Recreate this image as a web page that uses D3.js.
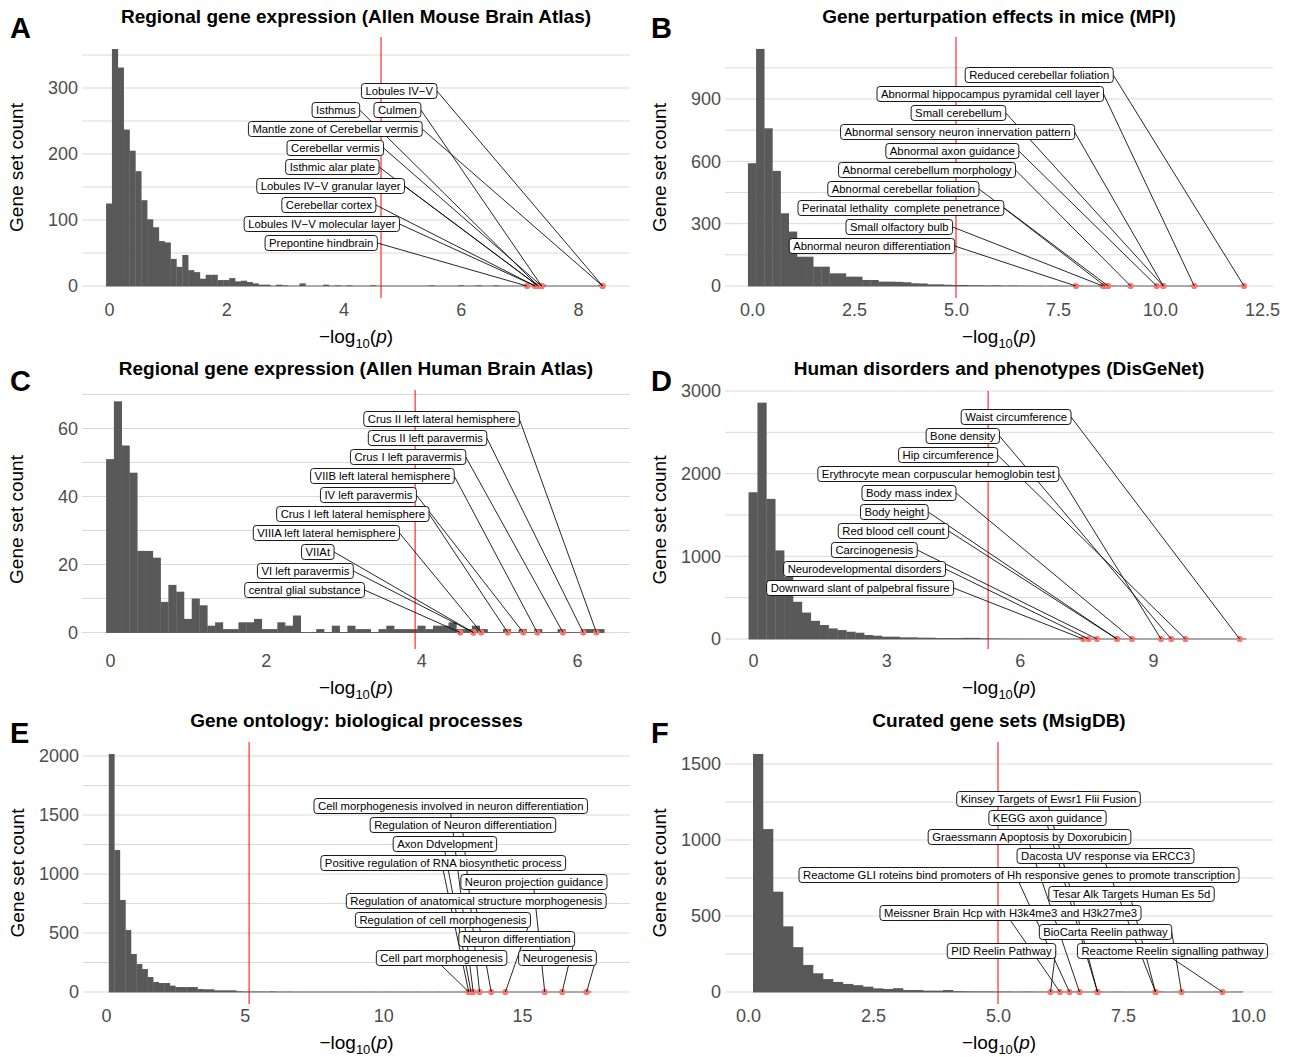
<!DOCTYPE html>
<html>
<head>
<meta charset="utf-8">
<script src="https://cdn.jsdelivr.net/npm/d3@7"></script>
<style>
body { margin: 0; background: #fff; }
svg text { font-family: "Liberation Sans", Arial, Helvetica, sans-serif; }
</style>
</head>
<body>
<svg id="chart" width="1292" height="1057"></svg>
<script>
// ---- A: Allen Mouse Brain Atlas (bins of 0.1, first centred on 0) ----
var aCounts = [125, 359, 331, 237, 205, 174, 130, 101, 89, 68,
    66, 41, 29, 47, 24, 21, 11, 17, 17, 9,
    9, 12, 7, 8, 6, 4, 2, 2, 0, 2,
    1, 0, 0, 4, 0, 0, 0, 2, 0, 1,
    0, 1, 0, 0, 0, 1, 0, 0, 0, 0,
    0, 0, 0, 0, 0, 1, 0, 0, 0, 0,
    1, 0, 0, 1, 0, 0, 1, 0, 0, 0,
    0, 1, 0, 5, 2, 0, 0, 0, 0, 0,
    0, 0, 0, 0, 2];
var aTerms = ["Lobules IV\u2212V", "Isthmus", "Culmen", "Mantle zone of Cerebellar vermis",
    "Cerebellar vermis", "Isthmic alar plate", "Lobules IV\u2212V granular layer",
    "Cerebellar cortex", "Lobules IV\u2212V molecular layer", "Prepontine hindbrain"];
var aLogP = [8.42, 7.32, 7.38, 8.42, 7.38, 7.32, 7.32, 7.27, 7.27, 7.13];
var aThreshold = 4.64;

// ---- B: MPI (bins of 0.2, first centred on 0) ----
var bCounts = [591, 1141, 759, 554, 350, 262, 141, 141, 93, 93,
    61, 61, 45, 45, 29, 29, 21, 21, 20, 18,
    13, 12, 8, 8, 6, 5, 5, 3, 3, 2,
    3, 1, 2, 1, 1, 1, 0, 1, 0, 0,
    1, 0, 0, 2, 1, 0, 1, 0, 0, 0,
    3, 0, 0, 0, 1, 0, 0, 0, 0, 0,
    1];
var bTerms = ["Reduced cerebellar foliation", "Abnormal hippocampus pyramidal cell layer",
    "Small cerebellum", "Abnormal sensory neuron innervation pattern", "Abnormal axon guidance",
    "Abnormal cerebellum morphology", "Abnormal cerebellar foliation",
    "Perinatal lethality  complete penetrance", "Small olfactory bulb", "Abnormal neuron differentiation"];
var bLogP = [12.06, 10.84, 10.08, 10.08, 9.92, 9.28, 8.73, 8.65, 8.60, 7.94];
var bThreshold = 5.0;

// ---- C: Allen Human Brain Atlas (bins of 0.1) ----
var cCounts = [51, 68, 55, 47, 24, 24, 22, 9, 14, 12,
    4, 10, 8, 2, 3, 1, 1, 3, 3, 4,
    1, 1, 3, 2, 5, 0, 0, 1, 0, 2,
    0, 2, 1, 1, 0, 1, 2, 1, 1, 1,
    2, 1, 2, 2, 3, 1, 1, 2, 1, 0,
    0, 1, 0, 1, 0, 1, 0, 0, 1, 0,
    0, 1, 1, 1];
var cTerms = ["Crus II left lateral hemisphere", "Crus II left paravermis", "Crus I left paravermis",
    "VIIB left lateral hemisphere", "IV left paravermis", "Crus I left lateral hemisphere",
    "VIIIA left lateral hemisphere", "VIIAt", "VI left paravermis", "central glial substance"];
var cLogP = [6.25, 6.08, 5.82, 5.49, 5.31, 5.11, 4.77, 4.67, 4.67, 4.50];
var cThreshold = 3.92;

// ---- D: DisGeNet (bins of 0.2) ----
var dCounts = [1775, 2859, 1695, 1072, 751, 450, 320, 220, 169, 128,
    108, 88, 76, 48, 40, 28, 28, 20, 20, 16,
    16, 12, 12, 12, 14, 14, 8, 6, 4, 3,
    3, 2, 2, 1, 1, 1, 1, 2, 1, 1,
    0, 2, 0, 1, 0, 0, 1, 1, 0, 1,
    0, 0, 0, 0, 0, 1];
var dTerms = ["Waist circumference", "Bone density", "Hip circumference",
    "Erythrocyte mean corpuscular hemoglobin test", "Body mass index", "Body height",
    "Red blood cell count", "Carcinogenesis", "Neurodevelopmental disorders",
    "Downward slant of palpebral fissure"];
var dLogP = [10.95, 9.41, 9.73, 9.18, 8.53, 8.19, 8.19, 7.74, 7.55, 7.43];
var dThreshold = 5.29;

// ---- E: GO biological processes (bins of 0.2, first centred on 0.2) ----
var eCounts = [2017, 1203, 780, 525, 322, 237, 195, 127, 85, 76,
    76, 54, 42, 42, 42, 42, 25, 23, 23, 14,
    14, 14, 14, 6, 3, 3, 3, 3, 2, 5,
    2, 1, 2, 1, 1, 1, 0, 1, 1, 0,
    1, 1, 0, 1, 0, 1, 0, 1, 0, 0,
    1, 0, 1, 0, 0, 1, 0, 0, 0, 1,
    0, 0, 0, 0, 2, 2, 1, 0, 1, 0,
    0, 1, 0, 0, 0, 0, 0, 1, 0, 0,
    0, 1, 0, 0, 0, 0, 1];
var eTerms = ["Cell morphogenesis involved in neuron differentiation", "Regulation of Neuron differentiation",
    "Axon Ddvelopment", "Positive regulation of RNA biosynthetic process", "Neuron projection guidance",
    "Regulation of anatomical structure morphogenesis", "Regulation of cell morphogenesis",
    "Neuron differentiation", "Cell part morphogenesis", "Neurogenesis"];
var eLogP = [13.24, 13.47, 13.16, 13.08, 15.82, 13.89, 14.40, 16.45, 13.08, 17.33];
var eThreshold = 5.16;

// ---- F: MsigDB curated (bins of 0.2, first centred on 0.2) ----
var fCounts = [1566, 1072, 660, 432, 295, 178, 123, 85, 66, 53,
    45, 35, 24, 20, 25, 13, 13, 9, 9, 13,
    5, 4, 3, 3, 2, 2, 1, 2, 1, 1,
    1, 1, 2, 0, 2, 0, 1, 0, 0, 0,
    2, 0, 1, 0, 0, 0, 1, 0, 1];
var fTerms = ["Kinsey Targets of Ewsr1 Flii Fusion", "KEGG axon guidance", "Graessmann Apoptosis by Doxorubicin",
    "Dacosta UV response via ERCC3",
    "Reactome GLI roteins bind promoters of Hh responsive genes to promote transcription",
    "Tesar Alk Targets Human Es 5d", "Meissner Brain Hcp with H3k4me3 and H3k27me3",
    "BioCarta Reelin pathway", "PID Reelin Pathway", "Reactome Reelin signalling pathway"];
var fLogP = [6.99, 6.99, 6.63, 8.15, 6.43, 8.15, 6.24, 8.67, 6.05, 9.49];
var fThreshold = 5.0;

// label placement (repel result), x in data units, stacked rows
var aLabelX = [4.95, 3.87, 4.92, 3.86, 3.86, 3.81, 3.78, 3.75, 3.63, 3.62];
var aLabelRow = [0, 1, 1, 2, 3, 4, 5, 6, 7, 8];
var bLabelX = [7.04, 5.84, 5.06, 5.04, 4.91, 4.29, 3.71, 3.65, 3.61, 2.94];
var cLabelX = [4.26, 4.08, 3.83, 3.50, 3.32, 3.12, 2.78, 2.67, 2.51, 2.50];
var dLabelX = [5.92, 4.72, 4.39, 4.17, 3.51, 3.18, 3.16, 2.73, 2.51, 2.41];
var eLabelX = [12.43, 12.87, 12.22, 12.16, 15.43, 13.35, 12.15, 14.81, 12.10, 16.28];
var fLabelX = [6.01, 5.99, 5.63, 7.15, 5.42, 7.67, 5.25, 7.15, 5.07, 8.49];
var tenRows = [0, 1, 2, 3, 4, 5, 6, 7, 8, 9];
var lastPairRows = [0, 1, 2, 3, 4, 5, 6, 7, 8, 8];

var fmtInt = d3.format("d"), fmtDec = d3.format(".1f");

var panels = [
    {letter: "A", title: "Regional gene expression (Allen Mouse Brain Atlas)",
     counts: aCounts, binStart: 0, binWidth: 0.1, terms: aTerms, logp: aLogP, threshold: aThreshold,
     labelX: aLabelX, labelRow: aLabelRow, labelTop: 91,
     xDom: [0, 8], xPx: [109, 578], yDom: [0, 300], yPx: [286, 88], box: [82, 630, 37, 298],
     xTicks: [0, 2, 4, 6, 8], xFmt: fmtInt, yTicks: [0, 100, 200, 300], yMinor: [50, 150, 250, 350],
     letterX: 10, titleY: 23, letterY: 38},
    {letter: "B", title: "Gene perturpation effects in mice (MPI)",
     counts: bCounts, binStart: 0, binWidth: 0.2, terms: bTerms, logp: bLogP, threshold: bThreshold,
     labelX: bLabelX, labelRow: tenRows, labelTop: 75,
     xDom: [0, 12.5], xPx: [752, 1262], yDom: [0, 900], yPx: [286, 99], box: [725, 1273, 37, 298],
     xTicks: [0, 2.5, 5, 7.5, 10, 12.5], xFmt: fmtDec, yTicks: [0, 300, 600, 900], yMinor: [150, 450, 750, 1050],
     letterX: 651, titleY: 23, letterY: 38},
    {letter: "C", title: "Regional gene expression (Allen Human Brain Atlas)",
     counts: cCounts, binStart: 0, binWidth: 0.1, terms: cTerms, logp: cLogP, threshold: cThreshold,
     labelX: cLabelX, labelRow: tenRows, labelTop: 419,
     xDom: [0, 6], xPx: [110, 577], yDom: [0, 60], yPx: [632.5, 428.5], box: [82, 630, 390, 649],
     xTicks: [0, 2, 4, 6], xFmt: fmtInt, yTicks: [0, 20, 40, 60], yMinor: [10, 30, 50, 70],
     letterX: 10, titleY: 375, letterY: 391},
    {letter: "D", title: "Human disorders and phenotypes (DisGeNet)",
     counts: dCounts, binStart: 0, binWidth: 0.2, terms: dTerms, logp: dLogP, threshold: dThreshold,
     labelX: dLabelX, labelRow: tenRows, labelTop: 417,
     xDom: [0, 9], xPx: [753, 1153], yDom: [0, 3000], yPx: [639, 391], box: [725, 1273, 391, 649],
     xTicks: [0, 3, 6, 9], xFmt: fmtInt, yTicks: [0, 1000, 2000, 3000], yMinor: [500, 1500, 2500],
     letterX: 651, titleY: 375, letterY: 391},
    {letter: "E", title: "Gene ontology: biological processes",
     counts: eCounts, binStart: 0.2, binWidth: 0.2, terms: eTerms, logp: eLogP, threshold: eThreshold,
     labelX: eLabelX, labelRow: lastPairRows, labelTop: 806,
     xDom: [0, 15], xPx: [106, 522], yDom: [0, 2000], yPx: [992, 756], box: [83, 630, 742, 1004],
     xTicks: [0, 5, 10, 15], xFmt: fmtInt, yTicks: [0, 500, 1000, 1500, 2000], yMinor: [250, 750, 1250, 1750],
     letterX: 10, titleY: 727, letterY: 743},
    {letter: "F", title: "Curated gene sets (MsigDB)",
     counts: fCounts, binStart: 0.2, binWidth: 0.2, terms: fTerms, logp: fLogP, threshold: fThreshold,
     labelX: fLabelX, labelRow: lastPairRows, labelTop: 799,
     xDom: [0, 10], xPx: [748, 1248], yDom: [0, 1500], yPx: [992, 764], box: [725, 1273, 742, 1004],
     xTicks: [0, 2.5, 5, 7.5, 10], xFmt: fmtDec, yTicks: [0, 500, 1000, 1500], yMinor: [250, 750, 1250],
     letterX: 651, titleY: 727, letterY: 743}
];

var svg = d3.select("#chart");
var ROW_STEP = 19, LABEL_H = 15, LABEL_PAD = 4;

function drawPanel(p) {
    var g = svg.append("g"),
        x = d3.scaleLinear().domain(p.xDom).range(p.xPx),
        y = d3.scaleLinear().domain(p.yDom).range(p.yPx),
        L = p.box[0], R = p.box[1], T = p.box[2], B = p.box[3];

    // grid (horizontal only)
    g.append("g").selectAll("line")
        .data(p.yMinor.concat(p.yTicks))
        .join("line")
        .attr("x1", L).attr("x2", R)
        .attr("y1", function(d) { return y(d); })
        .attr("y2", function(d) { return y(d); })
        .attr("stroke", "#d9d9d9").attr("stroke-width", 1);

    // histogram
    var bins = p.counts.map(function(c, i) {
        var mid = p.binStart + i * p.binWidth;
        return {x0: mid - p.binWidth / 2, x1: mid + p.binWidth / 2, n: c};
    });
    g.append("g").selectAll("rect")
        .data(bins.filter(function(b) { return b.n > 0; }))
        .join("rect")
        .attr("x", function(b) { return x(b.x0); })
        .attr("width", function(b) { return x(b.x1) - x(b.x0) + 0.3; })
        .attr("y", function(b) { return y(b.n); })
        .attr("height", function(b) { return y(0) - y(b.n); })
        .attr("fill", "#595959");
    g.append("line")
        .attr("x1", x(bins[0].x0)).attr("x2", x(bins[bins.length - 1].x1))
        .attr("y1", y(0)).attr("y2", y(0))
        .attr("stroke", "#595959").attr("stroke-width", 0.9);

    // threshold
    g.append("line")
        .attr("x1", x(p.threshold)).attr("x2", x(p.threshold))
        .attr("y1", T).attr("y2", B)
        .attr("stroke", "#ff0000").attr("stroke-width", 1);

    // points
    g.append("g").selectAll("circle")
        .data(p.logp)
        .join("circle")
        .attr("cx", function(d) { return x(d); })
        .attr("cy", y(0))
        .attr("r", 3.1)
        .attr("fill", "#f8766d");

    // labels: measure first, then segments underneath
    var items = p.terms.map(function(t, i) {
        return {term: t, v: p.logp[i], cx: x(p.labelX[i]), cy: p.labelTop + p.labelRow[i] * ROW_STEP};
    });
    var segG = g.append("g"), labG = g.append("g");
    var lab = labG.selectAll("g").data(items).join("g");
    lab.append("rect");
    lab.append("text")
        .attr("x", function(d) { return d.cx; })
        .attr("y", function(d) { return d.cy + 4; })
        .attr("text-anchor", "middle")
        .style("font-size", "11.3px")
        .style("white-space", "pre")
        .attr("fill", "#000")
        .text(function(d) { return d.term; })
        .each(function(d) { d.w = this.getComputedTextLength() + 2 * LABEL_PAD; });
    lab.select("rect")
        .attr("x", function(d) { return d.cx - d.w / 2; })
        .attr("y", function(d) { return d.cy - LABEL_H / 2; })
        .attr("width", function(d) { return d.w; })
        .attr("height", LABEL_H)
        .attr("rx", 3)
        .attr("fill", "#fff").attr("stroke", "#000").attr("stroke-width", 0.9);

    segG.selectAll("line").data(items).join("line")
        .each(function(d) {
            var px = x(d.v), py = y(0),
                mids = [[d.cx - d.w / 2, d.cy], [d.cx + d.w / 2, d.cy],
                        [d.cx, d.cy - LABEL_H / 2], [d.cx, d.cy + LABEL_H / 2]],
                best = d3.least(mids, function(m) { return Math.hypot(m[0] - px, m[1] - py); });
            d3.select(this)
                .attr("x1", best[0]).attr("y1", best[1])
                .attr("x2", px).attr("y2", py);
        })
        .attr("stroke", "#000").attr("stroke-width", 0.85);

    // axes, no ticks or domain (minimal theme)
    var ya = g.append("g").attr("transform", "translate(" + L + ",0)")
        .call(d3.axisLeft(y).tickValues(p.yTicks).tickSize(0).tickPadding(4).tickFormat(fmtInt));
    var xa = g.append("g").attr("transform", "translate(0," + B + ")")
        .call(d3.axisBottom(x).tickValues(p.xTicks).tickSize(0).tickPadding(5).tickFormat(p.xFmt));
    [ya, xa].forEach(function(a) {
        a.attr("font-size", null).attr("font-family", null);
        a.select(".domain").remove();
        a.selectAll("text").attr("fill", "#4d4d4d").style("font-size", "18px");
    });

    // axis titles
    g.append("text")
        .attr("transform", "translate(" + (L - 59) + "," + ((T + B) / 2) + ") rotate(-90)")
        .attr("text-anchor", "middle")
        .style("font-size", "19px")
        .text("Gene set count");
    var xt = g.append("text")
        .attr("x", (L + R) / 2).attr("y", B + 45)
        .attr("text-anchor", "middle")
        .style("font-size", "19px");
    xt.append("tspan").text("\u2212log");
    xt.append("tspan").attr("dy", 5).style("font-size", "13px").text("10");
    xt.append("tspan").attr("dy", -5).text("(");
    xt.append("tspan").style("font-style", "italic").text("p");
    xt.append("tspan").text(")");

    // title and panel letter
    g.append("text")
        .attr("x", (L + R) / 2).attr("y", p.titleY)
        .attr("text-anchor", "middle")
        .style("font-size", "19px").style("font-weight", "bold")
        .text(p.title);
    g.append("text")
        .attr("x", p.letterX).attr("y", p.letterY)
        .style("font-size", "29px").style("font-weight", "bold")
        .text(p.letter);
}

panels.forEach(drawPanel);
</script>
</body>
</html>
